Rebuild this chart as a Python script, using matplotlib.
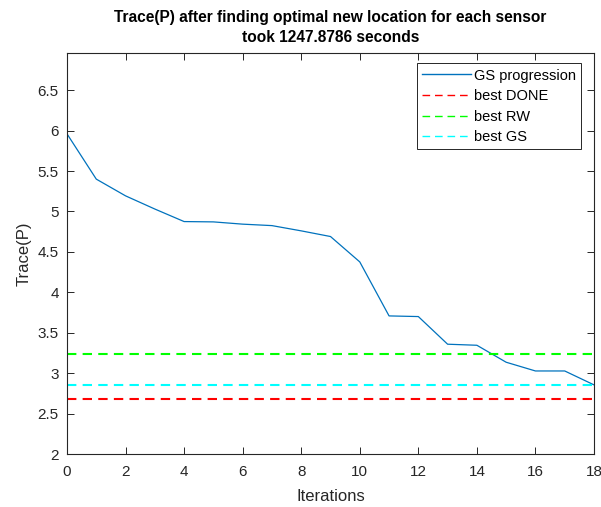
import matplotlib
matplotlib.use("Agg")
import matplotlib.pyplot as plt

plt.rcParams['font.family'] = ['Liberation Sans', 'DejaVu Sans']

iterations = list(range(19))
gs_progression = [5.96, 5.40, 5.193, 5.03, 4.875, 4.871, 4.843, 4.825, 4.76, 4.69,
                  4.376, 3.708, 3.70, 3.358, 3.345, 3.135, 3.027, 3.027, 2.855]
best_done = 2.682
best_rw = 3.239
best_gs = 2.855
elapsed_seconds = "1247.8786"

fig = plt.figure(figsize=(6.01, 5.07), dpi=100)
ax = fig.add_axes([67 / 601, 53 / 507, 527 / 601, 401 / 507])

dash = (0, (4.5, 3))
ax.plot(iterations, gs_progression, color=(0, 0.447, 0.741), lw=0.9, label='GS progression')
ax.axhline(best_done, color=(1, 0, 0), lw=1.5, ls=dash, label='best DONE')
ax.axhline(best_rw, color=(0, 1, 0), lw=1.5, ls=dash, label='best RW')
ax.axhline(best_gs, color=(0, 1, 1), lw=1.5, ls=dash, label='best GS')

ax.set_xlim(0, 18)
ax.set_ylim(2, 6.96)
ax.set_xticks(range(0, 19, 2))
ax.set_yticks([2, 2.5, 3, 3.5, 4, 4.5, 5, 5.5, 6, 6.5])
ax.set_yticklabels(['2', '2.5', '3', '3.5', '4', '4.5', '5', '5.5', '6', '6.5'])

axis_grey = (0.15, 0.15, 0.15)
for s in ax.spines.values():
    s.set_color(axis_grey)
    s.set_linewidth(0.8)
ax.tick_params(direction='in', length=5, width=0.7, colors=axis_grey,
               labelsize=11, top=True, right=True)
ax.tick_params(axis='x', pad=8)
ax.tick_params(axis='y', pad=6)

ax.set_xlabel('Iterations', fontsize=12, color=axis_grey, labelpad=7)
ax.set_ylabel('Trace(P)', fontsize=12, color=axis_grey, labelpad=4)
ax.set_title('Trace(P) after finding optimal new location for each sensor\n'
             'took ' + elapsed_seconds + ' seconds',
             fontsize=11.2, fontweight='bold', color='black', pad=8, linespacing=1.4)

leg = ax.legend(loc='upper right', bbox_to_anchor=(0.976, 0.974), fontsize=10.5,
                frameon=True, fancybox=False, edgecolor=axis_grey, framealpha=1,
                handlelength=3.3, handletextpad=0.25, borderpad=0.35,
                labelspacing=0.45, borderaxespad=0)
leg.get_frame().set_linewidth(0.7)
for handle in leg.get_lines():
    handle.set_linewidth(1.0)
    if handle.get_label() != 'GS progression':
        handle.set_linestyle((0, (5.5, 3.5)))

fig.savefig('out.png', dpi=100)
